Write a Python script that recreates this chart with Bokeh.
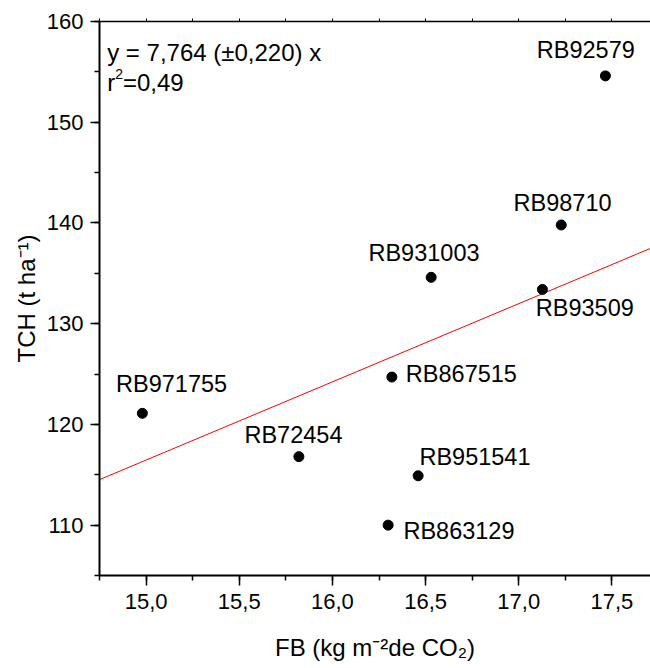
import numpy as np
from bokeh.plotting import figure
from bokeh.models import (ColumnDataSource, Label, LabelSet, LinearAxis,
                          SingleIntervalTicker, CustomJSTickFormatter, Range1d)
from bokeh.core.properties import value
from bokeh.embed import file_html
from bokeh.resources import INLINE

# Cultivars: fuel biomass (FB) vs cane yield (TCH)
cultivars = ["RB92579", "RB98710", "RB931003", "RB93509", "RB971755",
             "RB72454", "RB867515", "RB951541", "RB863129"]
fb = [17.465, 17.228, 16.530, 17.127, 14.980, 15.820, 16.319, 16.460, 16.299]
tch = [154.6, 139.8, 134.6, 133.4, 121.1, 116.8, 124.7, 114.9, 110.0]

# Regression through the origin
slope = 7.764
slope_se = 0.220
r2 = 0.49

x_title = "FB (kg m\u207b\u00b2de CO\u2082)"
y_title = "TCH (t ha\u207b\u00b9)"

x_lo, x_hi = 14.75, 17.707
y_lo, y_hi = 105, 160

FONT = "Liberation Sans"

# label placement around each point (pixels: right, up)
label_dx = [-68.6, -47.7, -62.7, -6.6, -26.3, -54.4, 14.0, 1.3, 15.3]
label_dy = [17.4, 14.0, 16.6, -27.0, 21.0, 13.4, -5.4, 11.0, -13.7]

p = figure(width=650, height=668,
           x_range=Range1d(x_lo, x_hi), y_range=Range1d(y_lo, y_hi),
           output_backend="svg", toolbar_location=None,
           min_border_left=99, min_border_right=0,
           min_border_top=21, min_border_bottom=93)
p.outline_line_color = None
p.xgrid.visible = False
p.ygrid.visible = False
p.background_fill_color = "white"
p.border_fill_color = "white"

comma_fmt = CustomJSTickFormatter(code="return tick.toFixed(1).replace('.', ',');")

xa = p.xaxis[0]
xa.ticker = SingleIntervalTicker(interval=0.5, num_minor_ticks=2)
xa.formatter = comma_fmt
ya = p.yaxis[0]
ya.ticker = SingleIntervalTicker(interval=10, num_minor_ticks=2)

for ax in (xa, ya):
    ax.axis_line_width = 2
    ax.axis_line_color = "black"
    ax.major_tick_in = 0
    ax.minor_tick_in = 0
    ax.major_tick_line_width = 1.5
    ax.minor_tick_line_width = 1.5
    ax.major_tick_line_color = "black"
    ax.minor_tick_line_color = "black"
    ax.minor_tick_out = 5
    ax.major_label_text_font = FONT
    ax.major_label_text_font_size = "22px"
    ax.major_label_text_color = "black"
    ax.axis_label_text_font = FONT
    ax.axis_label_text_font_size = "24px"
    ax.axis_label_text_font_style = "normal"
    ax.axis_label_text_color = "black"
xa.major_tick_out = 10
xa.major_label_standoff = 8
xa.axis_label = x_title
xa.axis_label_standoff = 22
ya.major_tick_out = 9
ya.major_label_standoff = 7
ya.axis_label = y_title
ya.axis_label_standoff = 4

top = LinearAxis(ticker=SingleIntervalTicker(interval=0.25, num_minor_ticks=0),
                 formatter=CustomJSTickFormatter(code="return '';"))
top.axis_line_width = 1.5
top.major_tick_out = 3
top.major_tick_in = 0
top.minor_tick_out = 0
top.minor_tick_in = 0
top.major_tick_line_width = 1
top.major_label_standoff = 0
p.add_layout(top, "above")

# regression line y = slope * x across the x range
reg_x = np.array([x_lo, x_hi])
reg_y = slope * reg_x
p.line(reg_x, reg_y, line_color="red", line_width=1)

src = ColumnDataSource(dict(x=fb, y=tch, name=cultivars, dx=label_dx, dy=label_dy))
p.scatter("x", "y", source=src, size=10, fill_color="black", line_color="black")
p.add_layout(LabelSet(x="x", y="y", text="name", source=src,
                      x_offset="dx", y_offset="dy",
                      text_font=value(FONT), text_font_size=value("23.5px"),
                      text_align="left", text_baseline="alphabetic",
                      text_color="black"))

# approximate advance widths (em) for Liberation Sans
W = {" ": .278, "(": .333, ")": .333, "-": .333, "r": .333, "=": .584, ",": .278}


def text_width(s, size):
    return sum(W.get(c, .556) for c in s) * size


def put(x, y, txt, size):
    p.add_layout(Label(x=x, y=y, x_units="screen", y_units="screen", text=txt,
                       text_font=FONT, text_font_size=f"{size}px",
                       text_baseline="alphabetic", text_align="left",
                       text_color="black"))


MAIN, SMALL = 24, 14

# equation and r²
eq = f"y = {slope:.3f} (±{slope_se:.3f}) x".replace(".", ",")
put(7.7, 523.3, eq, MAIN)
r_parts = [("r", MAIN, 0), ("2", SMALL, 8), (f"={r2:.2f}".replace(".", ","), MAIN, 0)]
pos = 0.0
for txt, size, shift in r_parts:
    put(7.7 + pos, 493.3 + shift, txt, size)
    pos += text_width(txt, size)

open("out.html", "w").write(file_html(p, INLINE))
